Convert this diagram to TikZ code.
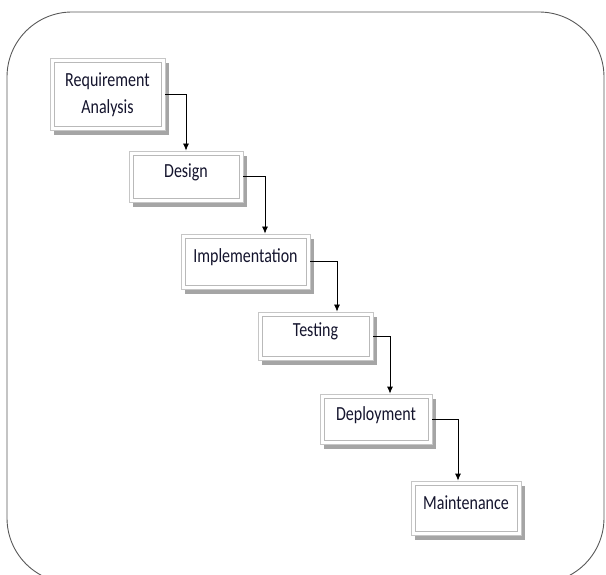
\documentclass[tikz,border=0pt]{standalone}
\usepackage{fontspec}
\usepackage{graphicx}
\setmainfont{Carlito}
\usetikzlibrary{shadows,arrows.meta}
\definecolor{stagetext}{RGB}{20,20,45}
\newcommand\stagelabel[2][4pt]{\raisebox{#1}[\height][\depth]{\scalebox{1}[1.25]{\begin{tabular}{@{}c@{}}#2\end{tabular}}}}
\begin{document}
\begin{tikzpicture}[x=1pt,y=-1pt,
  stage/.style={draw=gray!45,fill=white,line width=0.8pt,
    text=stagetext,font=\fontsize{16}{20}\selectfont,
    drop shadow={shadow xshift=3.5pt,shadow yshift=-5pt,fill=black!70},
    path picture={\draw[gray!55,line width=0.8pt]
      ([shift={(4pt,-4pt)}]path picture bounding box.north west) rectangle
      ([shift={(-4pt,4pt)}]path picture bounding box.south east);}},
  flow/.style={black,line width=0.8pt,-{Latex[length=7pt,width=6pt]}}]
% outer frame with big rounded corners, cut at the bottom
\useasboundingbox (0,0) rectangle (606,575);
\begin{scope}
\clip (0,0) rectangle (606,575);
\draw[gray!70!black,line width=0.9pt,rounded corners=65pt] (7,12) rectangle (604,583);
\end{scope}
% the six stages
\node[stage,minimum width=115pt,minimum height=72pt] (req) at (107.5,94) {\stagelabel[-1pt]{Requirement\\[1pt]Analysis}};
\node[stage,minimum width=114pt,minimum height=51pt] (des) at (186,176.5) {\stagelabel{Design}};
\node[stage,minimum width=129pt,minimum height=55pt] (imp) at (245.5,261.5) {\stagelabel{Implementation}};
\node[stage,minimum width=115pt,minimum height=48pt] (tst) at (315.5,336) {\stagelabel{Testing}};
\node[stage,minimum width=112pt,minimum height=50pt] (dep) at (376,419) {\stagelabel{Deployment}};
\node[stage,minimum width=110pt,minimum height=54pt] (mnt) at (466,508) {\stagelabel{Maintenance}};
% elbow connectors
\draw[flow] (req.east) -| (des.north);
\draw[flow] (des.east) -| ([xshift=19.5pt]imp.north);
\draw[flow] (imp.east) -| ([xshift=21.5pt]tst.north);
\draw[flow] (tst.east) -| ([xshift=14pt]dep.north);
\draw[flow] (dep.east) -| ([xshift=-8pt]mnt.north);
\end{tikzpicture}
\end{document}
